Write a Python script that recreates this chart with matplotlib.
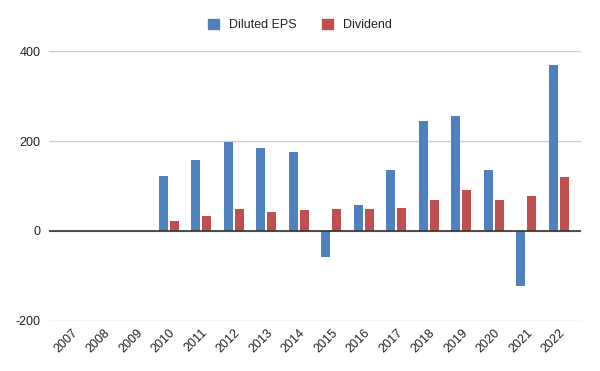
import matplotlib
matplotlib.use("Agg")
import matplotlib.pyplot as plt
import numpy as np
from matplotlib.patches import Patch

plt.rcParams['font.family'] = ['Liberation Sans', 'DejaVu Sans']

years = ["2007", "2008", "2009", "2010", "2011", "2012", "2013", "2014",
         "2015", "2016", "2017", "2018", "2019", "2020", "2021", "2022"]
diluted_eps = [0, 0, 0, 122, 158, 198, 184, 176, -58, 58, 136, 244, 256, 136, -122, 369]
dividend = [0, 0, 0, 22, 33, 49, 42, 47, 49, 49, 51, 69, 91, 69, 78, 120]

blue = "#4e81bd"
red = "#c0504e"

fig = plt.figure(figsize=(6, 3.71), dpi=100)
ax = fig.add_axes([49/600, (371-321)/371, (581-49)/600, (321-51)/371])

x = np.arange(len(years))
w = 0.28
off = 0.17
ax.bar(x - off, diluted_eps, width=w, color=blue, zorder=3)
ax.bar(x + off, dividend, width=w, color=red, zorder=3)

ax.set_xlim(-0.69, 15.68)
ax.set_ylim(-201, 401)
ax.set_yticks([-200, 0, 200, 400])
ax.set_yticklabels(["-200", "0", "200", "400"])
ax.grid(axis="y", color="#cccccc", linewidth=1, zorder=0)
ax.axhline(0, color="#333333", linewidth=1.2, zorder=4)
for s in ax.spines.values():
    s.set_visible(False)
ax.tick_params(axis="both", length=0, labelsize=9, colors="#222222")
ax.tick_params(axis="y", pad=6)
ax.set_xticks(x)
ax.set_xticklabels(years, rotation=45, ha="right", rotation_mode="anchor")
ax.tick_params(axis="x", pad=4)

handles = [Patch(color=blue, label="Diluted EPS"), Patch(color=red, label="Dividend")]
fig.legend(handles=handles, loc="center", bbox_to_anchor=(0.5, 1 - 25/371), ncol=2,
           frameon=False, fontsize=9, handlelength=0.9, handleheight=0.9,
           columnspacing=2.0, handletextpad=0.8, labelcolor="#222222")

fig.savefig("out.png", dpi=100, facecolor="white")
